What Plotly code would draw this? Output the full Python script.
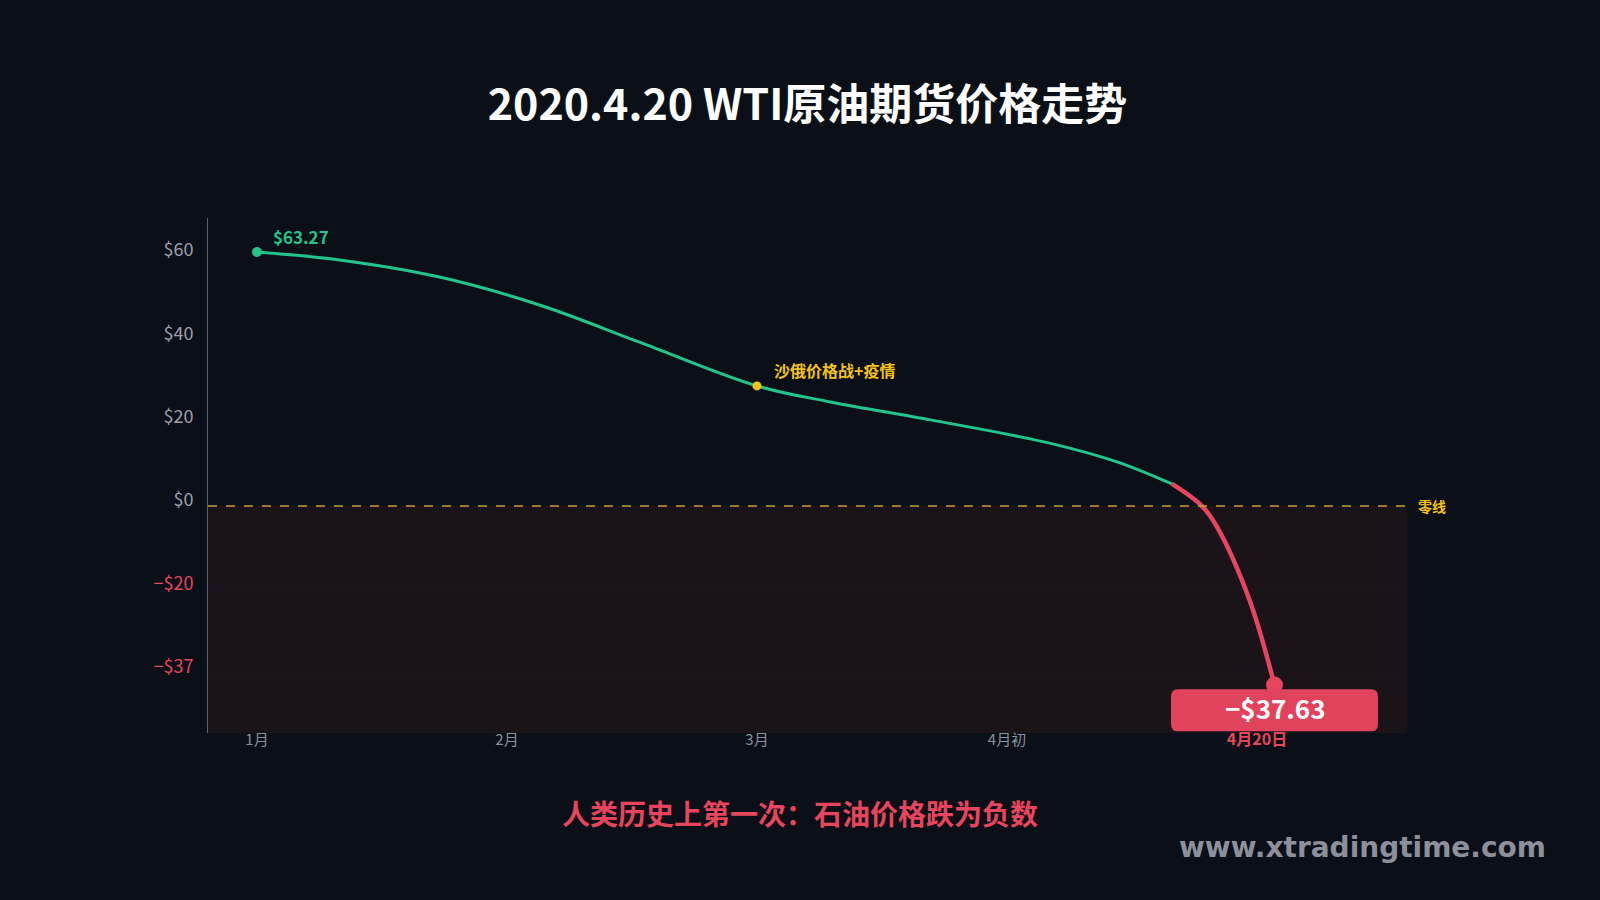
import plotly.graph_objects as go

# ---- data ----
month_labels = ["1月", "2月", "3月", "4月初", "4月20日"]
month_pos = [0, 1, 2, 3, 4]

green_x = [0, 0.33, 0.73, 1.13, 1.53, 2.0, 2.3, 2.7, 3.17, 3.44, 3.66]
green_y = [60.9, 59.0, 54.9, 48.2, 39.3, 28.8, 24.9, 20.6, 15.1, 10.6, 5.3]

red_x = [3.66, 3.78, 3.84, 3.97, 4.07]
red_y = [5.3, 0.0, -5.0, -22.5, -42.9]

y_tickvals = [60, 40, 20, 0, -20, -40]
y_ticktext = ["$60", "$40", "$20", "$0", "−$20", "−$37"]

start_label = "$63.27"
event_label = "沙俄价格战+疫情"
end_label = "−$37.63"

GREEN = "#22c58b"
RED = "#e6455d"
YELLOW = "#f2c21b"
GRAY = "#9aa0aa"
BG = "#0b0f17"
FONT = "Noto Sans CJK SC"

fig = go.Figure()

fig.add_trace(go.Scatter(x=green_x, y=green_y, mode="lines",
                         line=dict(color=GREEN, width=3, shape="spline"),
                         hoverinfo="skip", showlegend=False))
fig.add_trace(go.Scatter(x=red_x, y=red_y, mode="lines",
                         line=dict(color=RED, width=4.5, shape="spline"),
                         hoverinfo="skip", showlegend=False))
# markers
fig.add_trace(go.Scatter(x=[green_x[0]], y=[green_y[0]], mode="markers",
                         marker=dict(color=GREEN, size=10), showlegend=False))
fig.add_trace(go.Scatter(x=[2.0], y=[28.8], mode="markers",
                         marker=dict(color=YELLOW, size=9), showlegend=False))

# end label box (rounded) in data coords
x0, x1, yb, yt = 3.656, 4.484, -54.0, -43.9
rx, ry = 0.028, 1.7
box_path = (f"M {x0+rx},{yt} L {x1-rx},{yt} Q {x1},{yt} {x1},{yt-ry} "
            f"L {x1},{yb+ry} Q {x1},{yb} {x1-rx},{yb} L {x0+rx},{yb} "
            f"Q {x0},{yb} {x0},{yb+ry} L {x0},{yt-ry} Q {x0},{yt} {x0+rx},{yt} Z")

shapes = [
    # negative region shading
    dict(type="rect", xref="paper", x0=0, x1=1, yref="y", y0=-60, y1=0,
         fillcolor="#1a1419", line=dict(width=0), layer="below"),
    # zero line
    dict(type="line", xref="paper", x0=0, x1=1, yref="y", y0=0, y1=0,
         line=dict(color="#c9a12a", width=1.5, dash="dash"), layer="above"),
    dict(type="path", path=box_path, xref="x", yref="y",
         fillcolor="#e0435b", line=dict(width=0), layer="above"),
]

fig.add_trace(go.Scatter(x=[red_x[-1]], y=[red_y[-1]], mode="markers",
                         marker=dict(color="#e6455d", size=17), showlegend=False))

y_colored = []
for v, t in zip(y_tickvals, y_ticktext):
    c = RED if v < 0 else GRAY
    y_colored.append(f"<span style='color:{c}'>{t}</span>")

x_colored = [f"<span style='color:#8a909a'>{t}</span>" for t in month_labels[:-1]]
x_colored.append(f"<span style='color:{RED};font-size:16px'><b>{month_labels[-1]}</b></span>")

annotations = [
    dict(x=0.056, y=64.7, xref="x", yref="y", text=f"<b>{start_label}</b>",
         showarrow=False, xanchor="left", yanchor="middle",
         font=dict(color=GREEN, size=17, family=FONT)),
    dict(x=2.06, y=32.6, xref="x", yref="y", text=f"<b>{event_label}</b>",
         showarrow=False, xanchor="left", yanchor="middle",
         font=dict(color=YELLOW, size=16, family=FONT)),
    dict(x=1.0208, y=0, xref="paper", yref="y", text="<b>零线</b>",
         showarrow=False, xanchor="center", yanchor="middle",
         font=dict(color=YELLOW, size=14, family=FONT)),
    dict(x=4.072, y=-48.4, xref="x", yref="y", text=f"<b>{end_label}</b>",
         showarrow=False, xanchor="center", yanchor="middle",
         font=dict(color="white", size=26, family=FONT)),
    dict(x=0.4937, y=-0.1553, xref="paper", yref="paper",
         text="<b>人类历史上第一次：石油价格跌为负数</b>",
         showarrow=False, xanchor="center", yanchor="middle",
         font=dict(color=RED, size=28, family=FONT)),
    dict(x=1.1176, y=-0.2233, xref="paper", yref="paper",
         text="<b>www.xtradingtime.com</b>",
         showarrow=False, xanchor="right", yanchor="middle",
         font=dict(color="#8b909b", size=28, family="DejaVu Sans")),
]

fig.update_layout(
    width=1600, height=900,
    paper_bgcolor=BG, plot_bgcolor="rgba(0,0,0,0)",
    margin=dict(l=208, r=193, t=218, b=167),
    title=dict(text="<b>2020.4.20 WTI原油期货价格走势</b>", x=0.5, xref="paper",
               xanchor="center", y=1 - 105 / 900, yanchor="middle",
               font=dict(color="white", size=43, family=FONT)),
    shapes=shapes,
    annotations=annotations,
    showlegend=False,
    font=dict(family=FONT),
)
fig.update_xaxes(range=[-0.196, 4.6], tickvals=month_pos, ticktext=x_colored,
                 showgrid=False, zeroline=False, showline=False, ticks="",
                 ticklabelstandoff=-4,
                 tickfont=dict(size=15, family=FONT), fixedrange=True)
fig.update_yaxes(range=[-54.4, 69.06], tickvals=y_tickvals, ticktext=y_colored,
                 showgrid=True, gridcolor="rgba(255,255,255,0.025)", griddash="dot",
                 zeroline=False, showline=True, linecolor="#5c626d", linewidth=1,
                 ticks="", ticklabelstandoff=10, ticklabelshift=-6,
                 tickfont=dict(size=18, family=FONT), fixedrange=True)

fig.write_html("out.html",
               config={"displayModeBar": False},
               post_script="document.body.style.margin='0';"
                           "document.body.style.background='#0b0f17';")
